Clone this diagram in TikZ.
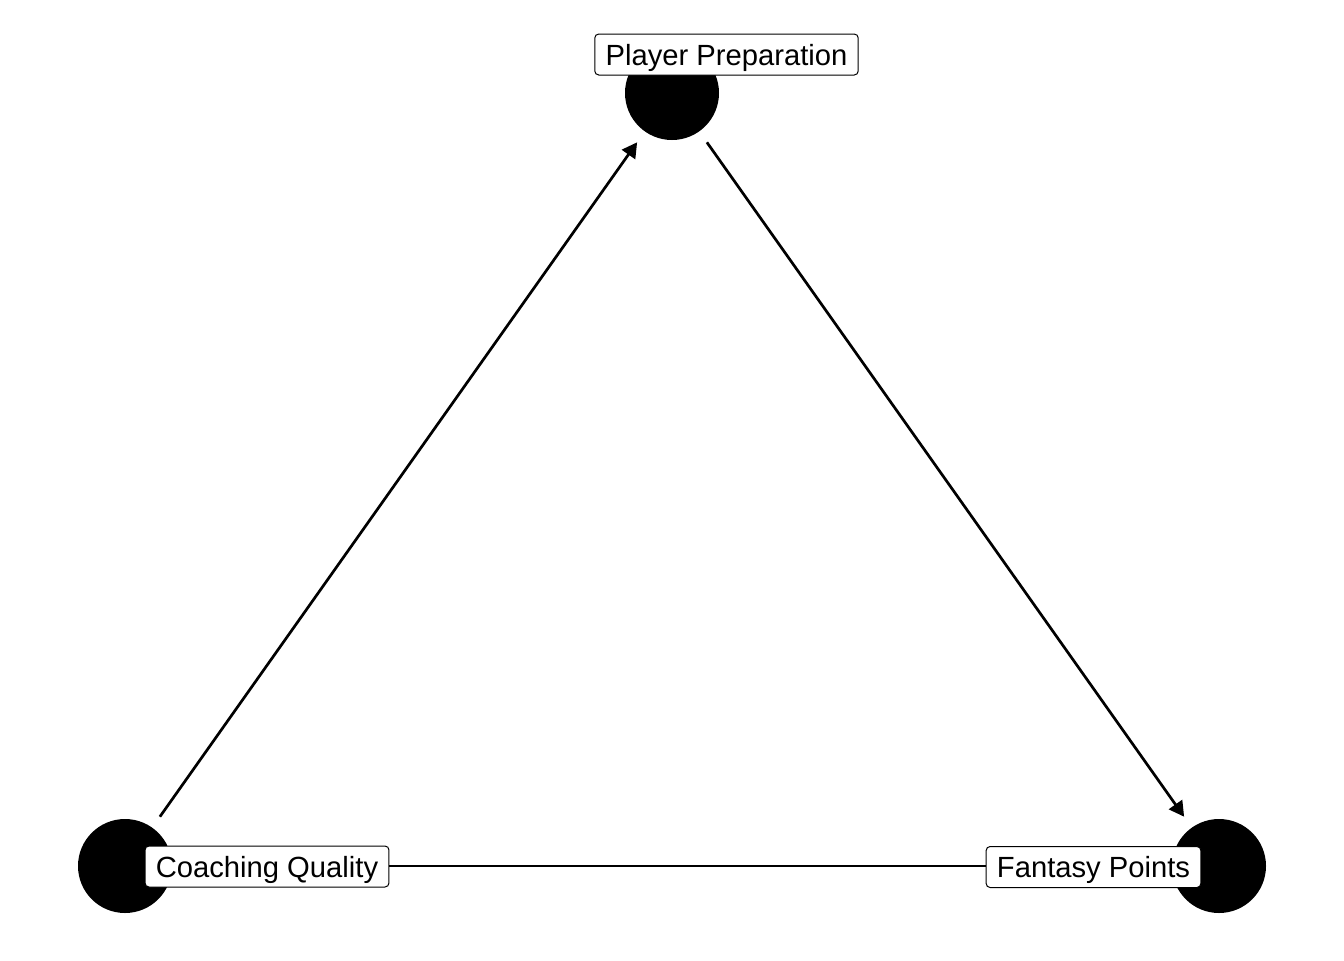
\documentclass[tikz,border=0pt]{standalone}
\usepackage{fontspec}
\setmainfont{Liberation Sans}
\usetikzlibrary{arrows.meta}
\begin{document}
\begin{tikzpicture}[x=0.5pt,y=-0.5pt,
  dot/.style={circle,fill=black,draw=none,minimum size=47pt,inner sep=0pt},
  lbl/.style={draw=black,line width=0.5pt,fill=white,rounded corners=2pt,
    font=\fontsize{14.6pt}{17pt}\selectfont,inner xsep=5.4pt,inner ysep=0pt,
    minimum height=20.5pt,text height=12.2pt,text depth=1.5pt},
  edge/.style={line width=1.35pt,shorten >=6.5pt,shorten <=6.5pt},
  arr/.style={edge,-{Triangle[length=7.5pt,width=8pt]}}]
\useasboundingbox (0,0) rectangle (1344,960);
\node[dot] (pp) at (672,93) {};
\node[dot] (cq) at (125,866) {};
\node[dot] (fp) at (1219,866) {};
\draw[line width=1.35pt] (cq) -- (fp);
\draw[arr] (cq) -- (pp);
\draw[arr] (pp) -- (fp);
\node[lbl] (lpp) at (726.5,54.5) {Player Preparation};
\node[lbl] (lcq) at (267,866.5) {Coaching Quality};
\node[lbl] (lfp) at (1093.5,867) {Fantasy Points};
\end{tikzpicture}
\end{document}
